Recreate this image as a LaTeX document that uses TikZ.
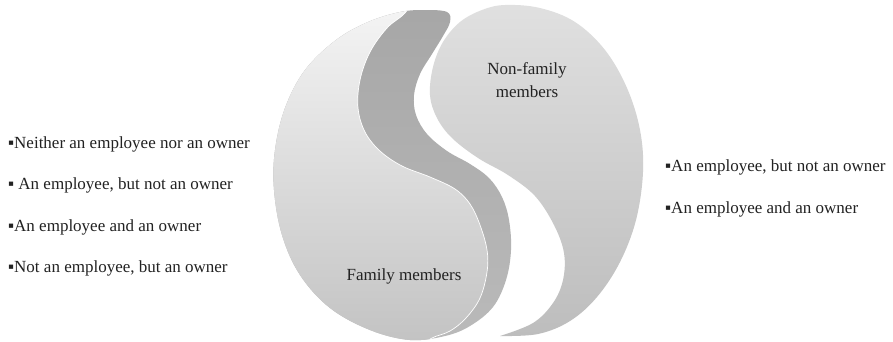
\documentclass[tikz,border=0pt]{standalone}
\usepackage{fontspec}
\setmainfont{Liberation Serif}
\definecolor{famTop}{HTML}{F6F6F6}
\definecolor{famBot}{HTML}{C2C2C2}
\definecolor{bandTop}{HTML}{A6A6A6}
\definecolor{bandBot}{HTML}{BABABA}
\definecolor{nfTop}{HTML}{E0E0E0}
\definecolor{nfBot}{HTML}{BDBDBD}
\definecolor{txt}{HTML}{222222}
\begin{document}
\begin{tikzpicture}[x=1pt,y=-1pt,
  lbl/.style={font=\fontsize{17}{23}\selectfont, inner sep=0pt, text=txt},
  item/.style={lbl, anchor=base west}]
\useasboundingbox[fill=white] (0,0) rectangle (893,341);

% Non-family members shape
\shade[top color=nfTop, bottom color=nfBot]
  plot[smooth, tension=0.6] coordinates {
    (500,336) (533,323) (553,303) (563,280) (564,253) (554,225) (535,196)
    (508,175) (478,158) (452,138) (437,118) (430,95) (433,67) (443,42)
    (460,22) (482,10) (505,5) (540,8) (575,22) (605,50) (627,88) (640,130)
    (643,172) (636,220) (620,262) (597,297) (570,321) (538,334) (500,336)}
  -- cycle;

% Family members shape (band + face)
\begin{scope}
\clip plot[smooth cycle, tension=0.6] coordinates {
    (447,12) (425,10) (400,12) (368,22) (336,40) (305,70) (285,108)
    (275,150) (274,190) (282,235) (300,275) (330,308) (370,330) (410,340)
    (445,336) (470,326) (493,307) (506,280) (511,250) (509,220) (502,197)
    (489,178) (470,164) (447,151) (427,134) (416,115) (414,95) (420,74)
    (432,54) (443,36) (450,22)};
\shade[top color=bandTop, bottom color=bandBot] (260,-5) rectangle (520,346);
\shade[top color=famTop, bottom color=famBot]
  plot[smooth, tension=0.6] coordinates {
    (416,-5) (405,13) (387,28) (370,52) (360,80) (358,108) (365,132)
    (380,151) (402,166) (430,177) (455,189) (470,204) (480,225) (487,250)
    (487,272) (480,298) (466,318) (450,331) (432,338) (418,348)}
  -- (260,348) -- (260,-5) -- cycle;
\draw[white, line width=0.7pt]
  plot[smooth, tension=0.6] coordinates {
    (416,-5) (405,13) (387,28) (370,52) (360,80) (358,108) (365,132)
    (380,151) (402,166) (430,177) (455,189) (470,204) (480,225) (487,250)
    (487,272) (480,298) (466,318) (450,331) (432,338) (418,348)};
\end{scope}

% Labels inside shapes
\node[lbl, align=center, anchor=center] (nonfam) at (527,80) {Non-family\\members};
\node[lbl, anchor=base] (fam) at (404,280) {Family members};

% Left list
\node[item] (l1) at (8,148) {▪Neither an employee nor an owner};
\node[item] (l2) at (8,189) {▪ An employee, but not an owner};
\node[item] (l3) at (8,231) {▪An employee and an owner};
\node[item] (l4) at (8,272) {▪Not an employee, but an owner};

% Right list
\node[item] (r1) at (665,171) {▪An employee, but not an owner};
\node[item] (r2) at (665,213) {▪An employee and an owner};
\end{tikzpicture}
\end{document}
